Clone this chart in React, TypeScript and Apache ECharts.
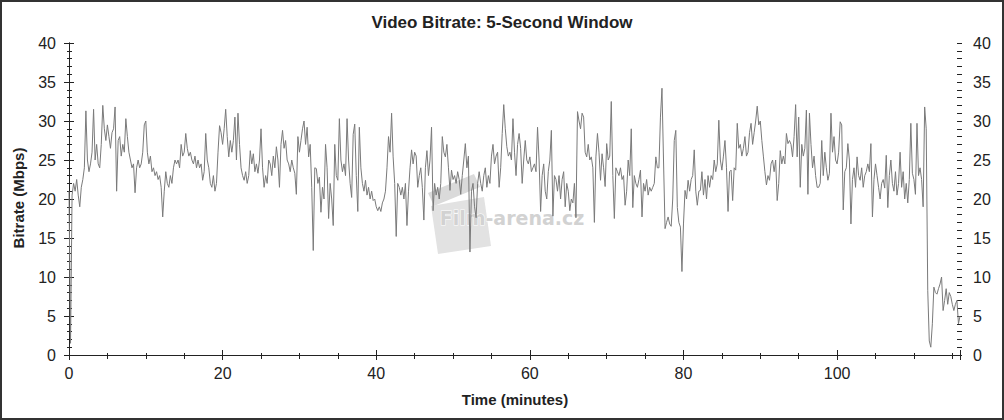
import React, { useEffect, useRef } from "react";
import * as echarts from "echarts";

// Sampling step of the bitrate trace (minutes)
const STEP_MIN = 0.2;
const X_MAX = 116;
const Y_MAX = 40;

// Video bitrate (Mbps), one value every 0.2 minute, rows of 2 minutes
const bitrate: number[] = [
  21, 1.5, 20.5, 22, 21, 22.5, 20.5, 19, 21.5, 22.5,
  24, 31.3, 25, 23.5, 24.5, 26, 31.5, 25, 27, 24.5,
  24, 27, 32, 29, 27.5, 29.5, 28, 26.5, 28.5, 29,
  31.8, 21, 27.5, 28, 25.5, 27, 26, 30.3, 28, 26,
  25, 24, 24.5, 20.8, 24, 25, 24, 24.5, 26, 29.5,
  30, 26, 24.5, 25.5, 23.5, 24, 23, 23.5, 22.5, 23,
  21.5, 17.7, 21, 23.5, 22, 21.5, 23, 22, 24, 25,
  24.5, 25, 24, 27, 25.5, 26, 28.4, 26.5, 25.5, 26,
  25, 24.5, 25.5, 24, 25, 24, 24.5, 22.4, 23.5, 28.4,
  25, 24, 22, 21.5, 23, 21, 22, 26, 29.4, 28.5,
  27, 29, 31.5, 28, 25.4, 27.5, 26, 27.5, 30.5, 25,
  31, 27, 24, 23, 22.4, 23.5, 22, 23, 26.2, 24.5,
  25.8, 23.5, 24.5, 23.3, 25, 29, 24, 21.5, 23, 22,
  25, 24.5, 23, 25.5, 24, 26.7, 25, 21.5, 27, 28.8,
  26.5, 27.5, 25, 24.5, 23.5, 25, 24, 23.3, 20.6, 28,
  26, 27.5, 29, 30, 27, 29.2, 25.4, 27, 21.5, 13.4,
  24, 23.9, 22, 22.8, 18.3, 21.5, 20, 27, 24, 17.5,
  22, 20, 16.6, 27, 23, 22.4, 30.3, 25, 23.5, 24.5,
  23, 30.3, 25, 22, 20.2, 28.3, 29.6, 23, 18.4, 29.2,
  24, 22, 21, 22.4, 20.5, 21.5, 20, 21, 19.8, 20,
  19, 18.5, 19, 18.4, 19.5, 20, 21, 24, 28, 26,
  31, 25.4, 22, 15.2, 22, 21.5, 20.5, 21.5, 20, 22,
  16.6, 21, 24, 26.3, 24.5, 26, 25.5, 21.5, 23, 24,
  21.5, 17.3, 24, 26.2, 23, 25, 29.2, 18.5, 22, 20.5,
  21.5, 20, 22, 28, 26, 25.4, 27, 24, 21.1, 23.7,
  22.5, 23, 22, 23.5, 22.5, 20.6, 23, 25, 27.1, 24,
  25.5, 13.2, 21, 22, 19, 17.6, 22, 23.5, 22, 21,
  23, 24, 21.5, 23, 22, 25.5, 27, 24.5, 25.5, 26,
  21.5, 24, 28.4, 32.1, 29, 26.7, 25.5, 26, 25, 30.3,
  26, 23, 27, 28.4, 26.5, 22, 25, 27.5, 25, 24.5,
  25.4, 23.5, 24, 24.5, 23.5, 29.2, 25, 18.4, 23, 24.5,
  21, 20, 23.5, 25, 28.8, 17.8, 23, 22.5, 21, 23,
  20, 22.5, 23.5, 19, 22, 21, 18.5, 20, 19.5, 22,
  17.6, 31.2, 30, 29, 31, 30.5, 26, 25.4, 27, 25,
  25.4, 24, 17, 25.4, 28.4, 26, 22.4, 25.8, 24, 21.6,
  27.1, 25, 25.5, 32.5, 23, 17.5, 24, 23.5, 23, 24,
  22.5, 23, 19.2, 21, 25, 23, 29, 18.9, 23, 22,
  21.5, 22.5, 23.7, 17.7, 22, 21, 22.5, 20.5, 21.5, 21,
  21.5, 22, 25.4, 24, 24, 30.5, 34.2, 25, 16.2, 17,
  17.7, 16.8, 16.5, 20, 27.5, 28.8, 18.9, 17, 16.4, 10.7,
  16.8, 21.1, 20, 22.4, 21, 22.5, 23, 26.3, 21, 19.2,
  21, 21.1, 23.5, 20.5, 22.5, 20, 23, 21.5, 23, 22.5,
  25, 23.5, 24.5, 30.1, 25, 23.7, 25.5, 27.5, 24, 18.4,
  23.5, 23.7, 19.8, 24, 23.7, 29.7, 26.5, 27, 25.5, 26.5,
  28, 25.5, 26, 28.5, 29.7, 27, 28.5, 30, 31.9, 29.5,
  30, 27.5, 25.5, 23.5, 21.8, 23, 22.4, 24.5, 25, 23.5,
  25, 19.8, 22, 26.2, 24.5, 25.5, 24.5, 28.4, 27.1, 27.5,
  27, 25.4, 28, 32.1, 25.4, 30.5, 21.5, 27, 25.5, 26.5,
  31.4, 20.6, 31, 27, 24, 25.5, 23, 21.5, 21.5, 22,
  27.5, 23, 26, 24, 22.4, 23.3, 31, 26, 28, 25,
  24.5, 26, 29.9, 29.5, 18.6, 23.5, 24, 27.1, 25, 16.8,
  22.5, 24, 21.5, 25.4, 23, 22.4, 24, 21.5, 23, 23.5,
  24.5, 23.5, 27.1, 17.7, 22.5, 24.5, 23, 21.5, 20, 22,
  22.5, 21.4, 25.6, 18.9, 23, 25, 22, 21, 23.5, 20.5,
  22, 26, 21.5, 23.5, 20, 22, 19.5, 22.5, 29.7, 23.3,
  22.5, 20.6, 29.7, 23, 24, 22.5, 19, 31.8, 29, 8.3,
  1.8, 1, 4, 8.7, 8, 7.8, 8.5, 9.1, 10, 5.7,
  7, 8.5, 6.5, 8, 7.5, 6.5, 5.7, 6.5, 7, 4,
  5,
];

const TITLE = "Video Bitrate: 5-Second Window";
const X_NAME = "Time (minutes)";
const Y_NAME = "Bitrate (Mbps)";
const WATERMARK = "Film-arena.cz";

const FONT = "'Liberation Sans', Arial, sans-serif";
const INK = "#222";

export default function App() {
  const ref = useRef<HTMLDivElement>(null);

  useEffect(() => {
    if (!ref.current) return;
    const chart = echarts.init(ref.current, null, { renderer: "svg" });
    const data = bitrate.map((v, i) => [Number((i * STEP_MIN).toFixed(2)), v]);

    const tickLine = { color: INK, width: 1 };
    const xBase = { type: "value", min: 0, max: X_MAX, splitLine: { show: false } };
    const yBase = { type: "value", min: 0, max: Y_MAX, splitLine: { show: false } };
    const noLine = { show: false };
    const noLabel = { show: false };

    const xAxes: any[] = [
      {
        ...xBase, position: "bottom", interval: 20,
        axisLine: { show: true, lineStyle: tickLine },
        axisTick: { show: true, inside: false, length: 5, lineStyle: tickLine },
        axisLabel: { show: true, fontSize: 16, color: INK, fontFamily: FONT, margin: 10, showMaxLabel: false },
      },
      {
        ...xBase, position: "bottom", interval: 5,
        axisLine: noLine, axisLabel: noLabel,
        axisTick: { show: true, inside: false, length: 4, lineStyle: tickLine },
      },
      {
        ...xBase, position: "bottom", interval: 20,
        axisLine: noLine, axisLabel: noLabel,
        axisTick: { show: true, inside: true, length: 5, lineStyle: tickLine },
      },
      {
        ...xBase, position: "top", interval: 20,
        axisLine: { show: true, lineStyle: tickLine }, axisLabel: noLabel,
        axisTick: { show: true, inside: false, length: 2, lineStyle: tickLine },
      },
      {
        ...xBase, position: "top", interval: 5,
        axisLine: noLine, axisLabel: noLabel,
        axisTick: { show: true, inside: false, length: 2, lineStyle: tickLine },
      },
      {
        ...xBase, position: "top", interval: 20,
        axisLine: noLine, axisLabel: noLabel,
        axisTick: { show: true, inside: true, length: 5, lineStyle: tickLine },
      },
    ];

    const ySide = (pos: string) => [
      {
        ...yBase, position: pos, interval: 5,
        axisLine: { show: true, lineStyle: tickLine },
        axisTick: { show: true, inside: false, length: 5, lineStyle: tickLine },
        axisLabel: { show: true, fontSize: 16, color: INK, fontFamily: FONT, margin: 13 },
      },
      {
        ...yBase, position: pos, interval: 5,
        axisLine: noLine, axisLabel: noLabel,
        axisTick: { show: true, inside: true, length: 5, lineStyle: tickLine },
      },
      {
        ...yBase, position: pos, interval: 1,
        axisLine: noLine, axisLabel: noLabel,
        axisTick: { show: true, inside: false, length: 2, lineStyle: tickLine },
      },
      {
        ...yBase, position: pos, interval: 1,
        axisLine: noLine, axisLabel: noLabel,
        axisTick: { show: true, inside: true, length: 3, lineStyle: tickLine },
      },
    ];

    chart.setOption({
      animation: false,
      backgroundColor: "#ffffff",
      grid: { left: 69, right: 44, top: 43, bottom: 65, containLabel: false },
      title: {
        text: TITLE,
        left: "center",
        top: 9,
        textStyle: { fontSize: 17, fontWeight: "bold", color: INK, fontFamily: FONT },
      },
      xAxis: xAxes,
      yAxis: [...ySide("left"), ...ySide("right")],
      graphic: [
        {
          type: "rect", z: 0, silent: true,
          shape: { x: 1, y: 1, width: 1002, height: 418 },
          style: { fill: "none", stroke: "#333", lineWidth: 2 },
        },
        {
          type: "polygon", z: 0, silent: true,
          shape: { points: [[431, 206], [484, 197], [491, 246], [438, 254]] },
          style: { fill: "#e2e2e2" },
        },
        {
          type: "polygon", z: 0, silent: true,
          shape: { points: [[428, 193], [474, 174], [480, 187], [434, 206]] },
          style: { fill: "#dadada" },
        },
        {
          type: "text", z: 1, silent: true,
          x: 512, y: 218,
          style: {
            text: WATERMARK, fill: "#d2d2d2", fontSize: 19, fontWeight: "bold",
            fontFamily: "'DejaVu Sans', sans-serif", align: "center", verticalAlign: "middle",
            stroke: "#ffffff", lineWidth: 1,
          },
        },
        {
          type: "text", silent: true,
          x: 515, y: 399,
          style: {
            text: X_NAME, fill: INK, fontSize: 15, fontWeight: "bold",
            fontFamily: FONT, align: "center", verticalAlign: "middle",
          },
        },
        {
          type: "text", silent: true,
          x: 18, y: 198, rotation: Math.PI / 2,
          style: {
            text: Y_NAME, fill: INK, fontSize: 15, fontWeight: "bold",
            fontFamily: FONT, align: "center", verticalAlign: "middle",
          },
        },
      ],
      series: [
        {
          type: "line",
          xAxisIndex: 0,
          yAxisIndex: 0,
          data,
          showSymbol: false,
          symbol: "none",
          z: 3,
          lineStyle: { color: "#7a7a7a", width: 1 },
        },
      ],
    });

    return () => chart.dispose();
  }, []);

  return (
    <div
      ref={ref}
      style={{ position: "absolute", left: 0, top: 0, width: 1004, height: 420 }}
    />
  );
}
